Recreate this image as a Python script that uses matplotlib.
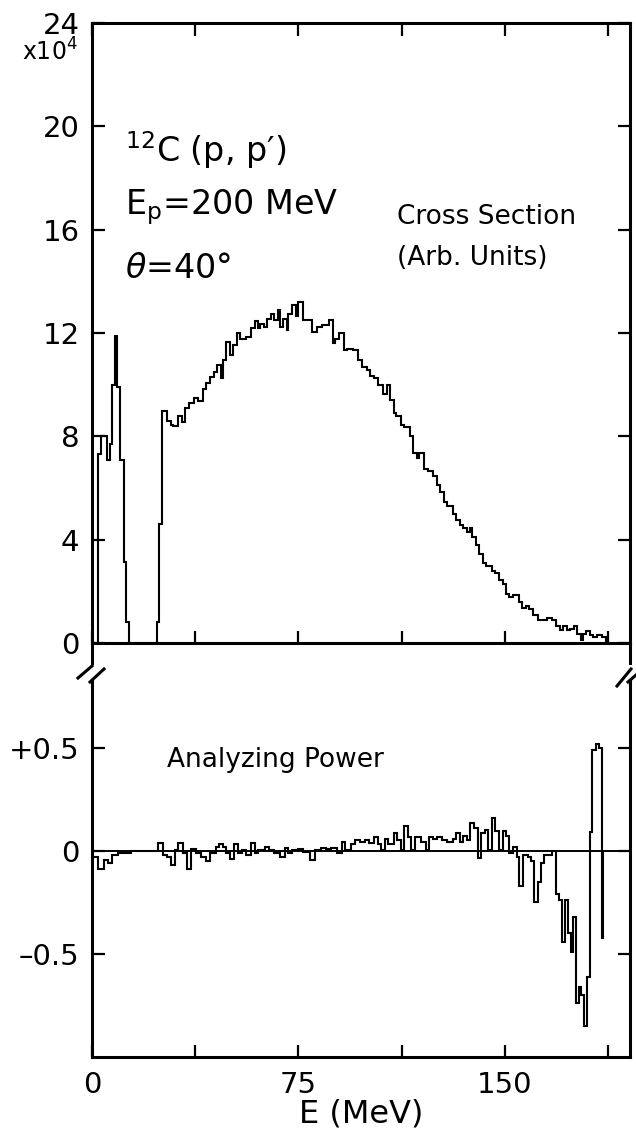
import matplotlib
matplotlib.use("Agg")
import matplotlib.pyplot as plt
from matplotlib.lines import Line2D
import numpy as np

plt.rcParams['font.family'] = ['DejaVu Sans']
plt.rcParams['mathtext.fontset'] = 'dejavusans'

# 12C(p,p') cross section, x10^4, step histogram (bin start energies in MeV)
cs_start = [2.1, 3.4, 5.4, 6.7, 7.3, 8.2, 9.25, 10.2, 11.45, 12.5, 13.5,
            23.5, 24.4, 25.4, 27.4, 28.7, 29.6, 31.3, 32.6, 33.9, 35.2,
            37.1, 38.4, 40.3, 41.6, 42.9, 44.2, 45.5, 46.8, 47.5, 48.8,
            50.1, 51.4, 52.6, 53.9, 55.9, 57.8, 59.1, 60.4, 61.1, 62.4,
            63.7, 65.0, 66.3, 67.5, 68.2, 69.5, 70.8, 71.4, 72.7, 74.0,
            74.9, 76.6, 80.1, 81.8, 83.7, 86.3, 87.6, 88.3, 89.6, 91.5,
            92.8, 94.7, 96.7, 98.0, 99.9, 101.2, 102.5, 103.8, 105.8, 107.1,
            108.4, 109.6, 110.3, 112.2, 113.5, 115.5, 116.8, 118.1, 118.7, 120.7,
            122.0, 123.9, 125.2, 126.5, 127.8, 129.1, 131.0, 132.3, 133.6, 134.9,
            136.2, 137.5, 138.1, 139.4, 140.7, 142.0, 143.3, 145.3, 146.6, 147.9,
            149.2, 150.4, 151.7, 153.0, 155.0, 156.3, 157.6, 158.9, 160.2, 162.1,
            165.3, 167.3, 168.6, 169.9, 171.2, 172.5, 173.8, 175.1, 176.4, 177.6,
            178.3, 179.6, 180.9, 182.2, 183.5, 185.4]
cs_end = 186.7
cs_values = [7.3, 8.0, 7.1, 7.7, 10.0, 11.9, 9.9, 7.1, 3.15, 0.8, 0.0,
             0.8, 4.6, 9.0, 8.6, 8.45, 8.4, 8.8, 8.55, 9.1, 9.3,
             9.5, 9.35, 9.85, 10.05, 10.3, 10.5, 10.75, 10.25, 10.95, 11.65,
             11.15, 11.55, 12.0, 11.75, 11.85, 12.2, 12.45, 12.2, 12.35, 12.25,
             12.55, 12.75, 12.5, 12.9, 12.25, 12.55, 12.1, 12.75, 13.1, 12.65,
             13.2, 12.5, 12.05, 12.25, 12.3, 12.5, 11.6, 11.75, 12.0, 11.35,
             11.4, 11.35, 10.95, 10.7, 10.55, 10.35, 10.25, 10.0, 9.65, 10.0,
             9.4, 8.9, 8.8, 8.45, 8.35, 8.0, 7.35, 7.15, 7.35, 6.75,
             6.65, 6.45, 6.1, 5.85, 5.45, 5.3, 5.0, 4.75, 4.55, 4.45,
             4.3, 4.45, 4.1, 3.8, 3.45, 3.1, 3.0, 2.8, 2.7, 2.45,
             2.3, 1.9, 1.8, 1.85, 1.6, 1.35, 1.45, 1.3, 1.1, 0.9,
             0.95, 0.9, 0.65, 0.5, 0.65, 0.5, 0.55, 0.65, 0.35, 0.1,
             0.35, 0.45, 0.3, 0.25, 0.3, 0.25]

# analyzing power, step histogram
ap_start = [0.4, 2.1, 4.3, 5.8, 7.3, 9.5, 14.3, 23.9, 25.7, 27.4,
            28.7, 30.0, 31.3, 33.2, 34.5, 36.1, 37.8, 39.7, 41.6, 42.9,
            44.9, 46.2, 47.5, 48.8, 50.1, 51.6, 52.9, 54.6, 55.9, 57.8,
            59.1, 60.4, 63.0, 64.3, 66.2, 68.2, 70.1, 71.4, 72.7, 74.7,
            76.6, 79.2, 81.1, 83.1, 85.0, 87.0, 88.9, 90.9, 92.1, 94.1,
            95.4, 97.3, 99.3, 100.6, 102.5, 103.8, 105.1, 106.4, 107.7, 109.6,
            111.0, 112.2, 113.5, 114.8, 116.1, 117.4, 119.4, 121.3, 122.6, 123.9,
            125.2, 127.1, 129.1, 131.0, 132.3, 133.6, 134.9, 136.2, 137.5, 138.8,
            140.1, 141.4, 142.7, 144.0, 145.3, 146.6, 147.9, 149.2, 150.4, 151.7,
            153.0, 154.3, 155.2, 156.7, 158.3, 159.5, 160.7, 161.9, 163.1, 164.3,
            167.3, 168.5, 169.7, 170.7, 171.9, 172.8, 174.0, 174.8, 175.8, 176.8,
            177.6, 178.8, 180.0, 181.0, 181.8, 183.0, 184.3, 185.5]
ap_end = 185.7
ap_values = [-0.03, -0.085, -0.045, -0.06, -0.02, -0.01, 0.0, 0.04, -0.02, -0.03,
             -0.07, 0.005, 0.04, -0.01, -0.085, 0.01, -0.01, -0.03, -0.05, -0.01,
             0.02, 0.035, 0.02, -0.01, -0.04, 0.035, -0.01, 0.005, -0.02, 0.04,
             -0.01, 0.005, 0.02, 0.005, -0.01, -0.03, 0.015, -0.01, 0.005, 0.01,
             -0.005, -0.045, 0.005, 0.015, 0.01, 0.015, -0.01, 0.045, 0.005, 0.035,
             0.055, 0.045, 0.055, 0.04, 0.07, 0.035, 0.005, 0.06, 0.035, 0.085,
             0.055, 0.005, 0.12, 0.07, 0.005, 0.07, 0.045, 0.005, 0.07, 0.06,
             0.07, 0.055, 0.045, 0.06, 0.085, 0.045, 0.075, 0.055, 0.135, 0.11,
             -0.035, 0.085, 0.1, 0.005, 0.16, 0.095, 0.005, 0.095, 0.075, -0.01,
             0.02, -0.03, -0.17, -0.02, -0.03, -0.05, -0.25, -0.15, -0.06, -0.02,
             0.0, -0.21, -0.24, -0.44, -0.24, -0.40, -0.49, -0.32, -0.74, -0.66,
             -0.70, -0.85, -0.61, 0.09, 0.49, 0.52, 0.50, -0.42]

xticks = [0, 37.5, 75, 112.5, 150, 187.5]
xticklabels = ['0', '', '75', '', '150', '']
cs_ticks = [0, 4, 8, 12, 16, 20, 24]
ap_ticks = [0.5, 0, -0.5]
ap_ticklabels = ['+0.5', '0', '\u20130.5']

W, H = 636, 1135
fig = plt.figure(figsize=(W / 100, H / 100), dpi=100)

def fx(px):
    return px / W

def fy(py):
    return 1 - py / H

ax1 = fig.add_axes([fx(92), fy(643), fx(630) - fx(92), fy(23) - fy(643)])
ax2 = fig.add_axes([fx(92), fy(1057), fx(630) - fx(92), fy(680) - fy(1057)])

ax1.stairs(cs_values, cs_start + [cs_end], baseline=0, color='black', lw=1.5)
ax1.set_xlim(0, 195.5)
ax1.set_ylim(0, 24)
ax1.set_xticks(xticks)
ax1.set_xticklabels([])
ax1.set_yticks(cs_ticks)
ax1.tick_params(direction='in', length=9, width=1.6, top=True, right=True,
                labelsize=21, pad=9, labelbottom=False)

ax2.axhline(0, color='black', lw=1.4)
ax2.stairs(ap_values, ap_start + [ap_end], baseline=0, color='black', lw=1.5)
ax2.set_xlim(0, 195.5)
ax2.set_ylim(-1.0, 0.83)
ax2.set_xticks(xticks)
ax2.set_xticklabels(xticklabels)
ax2.set_yticks(ap_ticks)
ax2.set_yticklabels(ap_ticklabels)
ax2.tick_params(direction='in', length=9, width=1.6, right=True,
                labelsize=21, pad=9)
ax2.tick_params(axis='x', pad=10)
ax2.spines['top'].set_visible(False)
ax2.set_xlabel('E (MeV)', fontsize=23, labelpad=0)

for ax in (ax1, ax2):
    for s in ax.spines.values():
        s.set_linewidth(2.2)

# axis break marks
breaks = [((92, 643), (92, 663)), ((630, 643), (630, 663)),
          ((78, 678), (92, 666)), ((90, 682), (104, 669)),
          ((617, 686), (631, 669)), ((628, 682), (636, 675))]
for (x0, y0), (x1, y1) in breaks:
    fig.add_artist(Line2D([fx(x0), fx(x1)], [fy(y0), fy(y1)],
                          transform=fig.transFigure, color='black', lw=2.2))

fig.text(fx(78), fy(52), r'x10$^4$', fontsize=17, va='center', ha='right')
fig.text(fx(125), fy(150), r'$^{12}$C (p, p′)', fontsize=24, va='center')
fig.text(fx(125), fy(207), r'E$_\mathrm{p}$=200 MeV', fontsize=24, va='center')
fig.text(fx(125), fy(268), r'$\theta$=40°', fontsize=24, va='center')
fig.text(fx(397), fy(217), 'Cross Section', fontsize=19, va='center')
fig.text(fx(397), fy(258), '(Arb. Units)', fontsize=19, va='center')
fig.text(fx(167), fy(760), 'Analyzing Power', fontsize=19, va='center')

fig.savefig('out.png', dpi=100, facecolor='white')
